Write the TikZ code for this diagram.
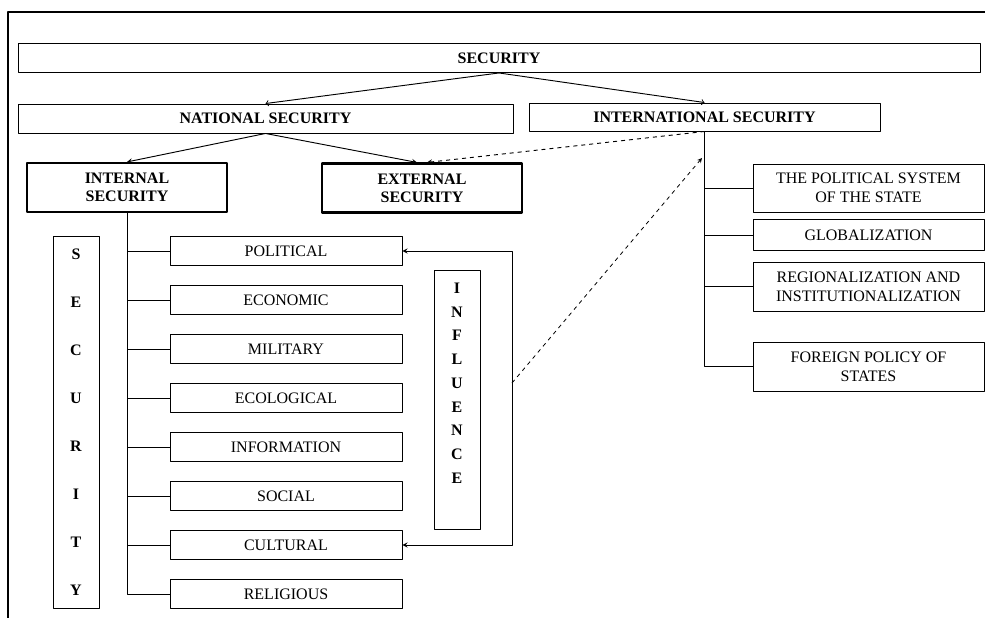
\documentclass[tikz,border=0pt,12pt]{standalone}
\usepackage{fontspec}
\setmainfont{Liberation Serif}
\usetikzlibrary{positioning}
\begin{document}
\begin{tikzpicture}[>=stealth,line join=round,line width=0.7pt,x=0.75pt,y=-0.75pt,
	kt/.style 2 args={minimum width=#1*0.75pt,minimum height=#2*0.75pt},
	hop/.style={draw,align=center,inner sep=0pt},
	hopdam/.style={hop,line width=1.6pt,font=\bfseries\fontsize{12}{13.5}\selectfont}]
	\def\w{232} % rong hop nho
	\def\hh{29} % cao hop nho
	\def\xr{868.5} % tam cac hop ben phai
	\useasboundingbox (0,0) rectangle (985,618);
	% khung ngoai
	\draw[line width=1.5pt] (985,12)--(8,12)--(8,618);
	% cac tang tren
	\node[hop,kt={962}{29},font=\bfseries] (sec) at (499,58) {SECURITY};
	\node[hop,kt={495}{29},font=\bfseries] (nat) at (265.5,118.5) {NATIONAL SECURITY};
	\node[hop,kt={351}{28},font=\bfseries] (intl) at (704.5,117) {INTERNATIONAL SECURITY};
	\node[hopdam,kt={200}{49}] (int) at (127,187.5) {INTERNAL\\SECURITY};
	\node[hopdam,kt={200}{49}] (ext) at (422,188) {EXTERNAL\\SECURITY};
	\draw[-to] (sec.south)--(nat.north);
	\draw[-to] (sec.south)--(intl.north);
	\draw[->] (nat.south)--(int.north);
	\draw[->] (nat.south)--([xshift=-3.75pt]ext.north);
	\draw[->,dashed] (intl.south)--([xshift=3.75pt]ext.north);
	% cot chu doc
	\node[hop,kt={46}{372},font=\bfseries\fontsize{12}{36}\selectfont] (doc) at (76,422) {S\\E\\C\\U\\R\\I\\T\\Y};
	% cac linh vuc
	\foreach \t [count=\i] in {POLITICAL,ECONOMIC,MILITARY,ECOLOGICAL,INFORMATION,SOCIAL,CULTURAL,RELIGIOUS}
		\node[hop,kt={\w}{\hh}] (b\i) at (286,{251+49*(\i-1)}) {\t};
	\draw (int.south) |- (b8.west);
	\foreach \i in {1,...,7}
		\draw (int.south |- b\i.west)--(b\i.west);
	% anh huong
	\node[hop,kt={46}{259}] (ah) at (457,399.5) {};
	\node[align=center,inner sep=0pt,font=\bfseries\fontsize{12}{17.8}\selectfont,below=9.75pt of ah.north] (ahchu) {I\\N\\F\\L\\U\\E\\N\\C\\E};
	\coordinate (ngoac) at ([xshift=82.5pt]b1.east);
	\draw[<->] (b1.east)--(ngoac) |- (b7.east);
	\coordinate (tu) at (512,383);
	\coordinate (den) at (702,158);
	\draw[->,dashed,line width=0.6pt] (tu)--(den);
	% cac yeu to quoc te
	\node[hop,kt={231}{48}] (r1) at (\xr,188) {THE POLITICAL SYSTEM\\OF THE STATE};
	\node[hop,kt={231}{31}] (r2) at (\xr,235) {GLOBALIZATION};
	\node[hop,kt={231}{49}] (r3) at (\xr,286.5) {REGIONALIZATION AND\\INSTITUTIONALIZATION};
	\node[hop,kt={231}{49}] (r4) at (\xr,366.5) {FOREIGN POLICY OF\\STATES};
	\draw (intl.south) |- (r4.west);
	\foreach \i in {1,2,3}
		\draw (intl.south |- r\i.west)--(r\i.west);
\end{tikzpicture}
\end{document}
